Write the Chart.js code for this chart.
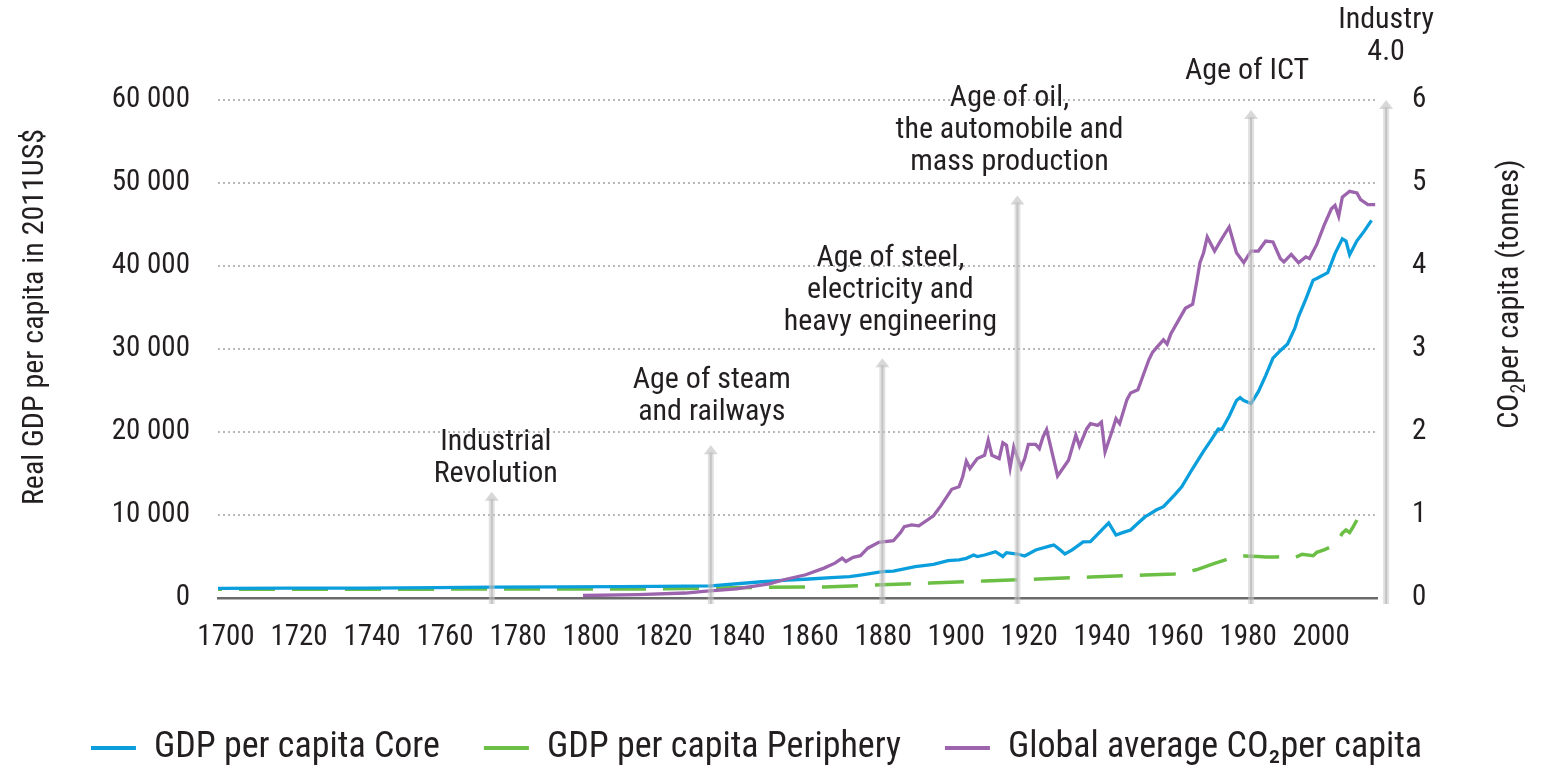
<!DOCTYPE html>
<html>
<head>
<meta charset="utf-8">
<script src="https://cdn.jsdelivr.net/npm/chart.js@4.4.1/dist/chart.umd.min.js"></script>
<style>
  html, body { margin: 0; padding: 0; background: #fff; }
  #wrap { width: 1549px; height: 769px; position: relative; }
</style>
</head>
<body>
<div id="wrap"><canvas id="chartOndas"></canvas></div>
<script>
// valores
const coreYears = [1700, 1720, 1740, 1760, 1775, 1794, 1810, 1820, 1835, 1849, 1856, 1862, 1868, 1873, 1876, 1882, 1885, 1891, 1896, 1900, 1903, 1905, 1907, 1908, 1910, 1913, 1915, 1916, 1919, 1921, 1924, 1928, 1929, 1931, 1932, 1934, 1937, 1939, 1941, 1943, 1944, 1946, 1948, 1950, 1952, 1954, 1955, 1957, 1959, 1962, 1964, 1967, 1970, 1972, 1974, 1975, 1977, 1979, 1980, 1981, 1983, 1985, 1987, 1989, 1991, 1993, 1995, 1996, 1998, 2000, 2001, 2004, 2006, 2008, 2009, 2010, 2012, 2014, 2016];
const coreGdp = [1150, 1180, 1200, 1240, 1300, 1330, 1380, 1400, 1470, 1960, 2150, 2290, 2450, 2570, 2770, 3170, 3250, 3770, 4060, 4500, 4600, 4780, 5180, 5000, 5180, 5580, 5000, 5460, 5300, 5060, 5780, 6270, 6390, 5700, 5300, 5800, 6750, 6800, 7700, 8600, 9040, 7590, 7900, 8190, 9000, 9800, 10040, 10600, 11000, 12400, 13390, 15600, 17690, 19000, 20350, 20300, 21900, 23800, 24140, 23800, 23430, 24860, 26800, 28900, 29800, 30600, 32500, 33900, 36000, 38300, 38500, 39200, 41500, 43270, 43000, 41350, 43030, 44200, 45500];

const periphYears = [1700, 1750, 1775, 1800, 1820, 1835, 1850, 1866, 1880, 1895, 1910, 1925, 1939, 1954, 1962, 1964, 1968, 1973, 1976, 1978, 1981, 1985, 1987, 1990, 1992, 1995, 1997, 2000, 2001, 2003, 2006, 2008, 2009, 2010, 2011, 2012];
const periphGdp = [1050, 1060, 1080, 1080, 1100, 1200, 1290, 1330, 1570, 1800, 2050, 2290, 2530, 2770, 2900, 3000, 3400, 4180, 4600, 4900, 5060, 4990, 4940, 4950, 4990, 4870, 5270, 5100, 5500, 5800, 6400, 7800, 8190, 7890, 8600, 9400];

const co2Years = [1800, 1815, 1828, 1833, 1842, 1851, 1855, 1861, 1866, 1869, 1871, 1872, 1874, 1876, 1878, 1881, 1885, 1887, 1888, 1890, 1892, 1896, 1898, 1901, 1903, 1904, 1905, 1906, 1908, 1910, 1911, 1912, 1914, 1915, 1916, 1917, 1918, 1920, 1921, 1922, 1924, 1925, 1926, 1927, 1930, 1933, 1935, 1936, 1938, 1939, 1941, 1942, 1943, 1945, 1946, 1947, 1949, 1950, 1952, 1953, 1955, 1956, 1957, 1959, 1960, 1961, 1965, 1967, 1968, 1969, 1970, 1971, 1973, 1975, 1977, 1979, 1981, 1983, 1985, 1987, 1989, 1991, 1992, 1994, 1996, 1998, 1999, 2001, 2003, 2005, 2006, 2007, 2008, 2010, 2012, 2013, 2015, 2017];
const co2PerCapita = [0.03, 0.04, 0.06, 0.08, 0.11, 0.17, 0.22, 0.28, 0.36, 0.42, 0.48, 0.44, 0.49, 0.51, 0.60, 0.67, 0.69, 0.79, 0.86, 0.88, 0.87, 0.99, 1.11, 1.31, 1.34, 1.46, 1.65, 1.56, 1.68, 1.72, 1.90, 1.72, 1.68, 1.87, 1.84, 1.57, 1.82, 1.57, 1.68, 1.85, 1.85, 1.80, 1.94, 2.03, 1.47, 1.66, 1.96, 1.83, 2.04, 2.10, 2.08, 2.12, 1.76, 2.02, 2.16, 2.10, 2.39, 2.47, 2.51, 2.63, 2.87, 2.96, 3.01, 3.11, 3.06, 3.18, 3.49, 3.54, 3.78, 4.04, 4.16, 4.35, 4.18, 4.33, 4.47, 4.16, 4.04, 4.18, 4.18, 4.30, 4.29, 4.09, 4.05, 4.14, 4.04, 4.11, 4.09, 4.26, 4.49, 4.69, 4.73, 4.60, 4.83, 4.90, 4.88, 4.80, 4.74, 4.74];

// ondas tecnológicas: año de la flecha, altura (eje izquierdo) y texto
const waveYears = [1775, 1835, 1882, 1919, 1983, 2020];
const waveTops = [12800, 18400, 28900, 48500, 58800, 60000];
const waveLabels = [
  ["Industrial", "Revolution"],
  ["Age of steam", "and railways"],
  ["Age of steel,", "electricity and", "heavy engineering"],
  ["Age of oil,", "the automobile and", "mass production"],
  ["Age of ICT"],
  ["Industry", "4.0"]
];

const FONT = "'Roboto Condensed', 'Liberation Sans Narrow', Roboto, sans-serif";
const TEXT = "#231f20";

function toPoints(xs, ys) {
  return xs.map((x, i) => ({ x, y: ys[i] }));
}

function fmtMiles(v) {
  return String(v).replace(/\B(?=(\d{3})+(?!\d))/g, " ");
}

// flechas + textos de cada onda
const wavesPlugin = {
  id: "waves",
  afterDatasetsDraw(chart) {
    const { ctx, chartArea, scales } = chart;
    const gap = [17, 33, 36, 33, 38, 48];
    const shift = [4, 1, 8, -8, -4, 0];
    ctx.save();
    waveYears.forEach((yr, i) => {
      const px = scales.x.getPixelForValue(yr);
      const top = scales.y.getPixelForValue(waveTops[i]);
      const bottom = chartArea.bottom + 6;
      ctx.fillStyle = "rgba(200,200,200,0.55)";
      ctx.fillRect(px - 3, top + 7, 6, bottom - top - 7);
      ctx.fillStyle = "rgba(160,160,160,0.45)";
      ctx.fillRect(px - 1, top + 7, 2, bottom - top - 7);
      ctx.beginPath();
      ctx.moveTo(px, top);
      ctx.lineTo(px - 7, top + 9);
      ctx.lineTo(px + 7, top + 9);
      ctx.closePath();
      ctx.fillStyle = "rgba(195,195,195,0.65)";
      ctx.fill();

      ctx.font = `30px ${FONT}`;
      ctx.fillStyle = TEXT;
      ctx.textAlign = "center";
      ctx.textBaseline = "middle";
      const lines = waveLabels[i];
      lines.forEach((t, k) => {
        ctx.fillText(t, px + shift[i], top - gap[i] - (lines.length - 1 - k) * 32);
      });
    });
    ctx.restore();
  }
};

// títulos de ejes (el derecho lleva subíndice)
const titlesPlugin = {
  id: "axisTitles",
  afterDraw(chart) {
    const { ctx } = chart;
    const big = `30px ${FONT}`;
    const small = `20px ${FONT}`;
    ctx.save();
    ctx.fillStyle = TEXT;
    ctx.textBaseline = "alphabetic";

    ctx.save();
    ctx.translate(43, 317);
    ctx.rotate(-Math.PI / 2);
    ctx.font = big;
    ctx.textAlign = "center";
    ctx.fillText("Real GDP per capita in 2011US$", 0, 0);
    ctx.restore();

    ctx.save();
    ctx.translate(1518, 294);
    ctx.rotate(-Math.PI / 2);
    ctx.textAlign = "left";
    ctx.font = big;
    const wa = ctx.measureText("CO").width;
    const wc = ctx.measureText("per capita (tonnes)").width;
    ctx.font = small;
    const wb = ctx.measureText("2").width;
    let sx = -(wa + wb + wc) / 2;
    ctx.font = big;
    ctx.fillText("CO", sx, 0);
    sx += wa;
    ctx.font = small;
    ctx.fillText("2", sx, 7);
    sx += wb;
    ctx.font = big;
    ctx.fillText("per capita (tonnes)", sx, 0);
    ctx.restore();

    ctx.restore();
  }
};

// baja la leyenda y la corre un poco a la izquierda
const legendShift = {
  id: "legendShift",
  beforeInit(chart) {
    const legend = chart.legend;
    const fit = legend.fit;
    legend.fit = function () {
      fit.call(this);
      this.height -= 7;
    };
    const draw = legend.draw;
    legend.draw = function () {
      this.ctx.save();
      this.ctx.translate(-18, 0);
      draw.call(this);
      this.ctx.restore();
    };
  }
};

Chart.defaults.font.family = FONT;
Chart.defaults.color = TEXT;

const ctx = document.getElementById("chartOndas");
new Chart(ctx, {
  type: "line",
  data: {
    datasets: [
      {
        label: "GDP per capita Core",
        data: toPoints(coreYears, coreGdp),
        borderColor: "#0a9fdc",
        backgroundColor: "#0a9fdc",
        borderWidth: 3.3,
        pointRadius: 0,
        tension: 0,
        yAxisID: "y",
        order: 2
      },
      {
        label: "GDP per capita Periphery",
        data: toPoints(periphYears, periphGdp),
        borderColor: "#6cbf45",
        backgroundColor: "#6cbf45",
        borderWidth: 3.5,
        borderDash: [36, 17],
        borderDashOffset: 32,
        pointRadius: 0,
        tension: 0,
        yAxisID: "y",
        order: 3
      },
      {
        label: "Global average CO₂per capita",
        data: toPoints(co2Years, co2PerCapita),
        borderColor: "#9c64ad",
        backgroundColor: "#9c64ad",
        borderWidth: 3.3,
        pointRadius: 0,
        tension: 0,
        yAxisID: "y2",
        order: 1
      }
    ]
  },
  options: {
    responsive: true,
    maintainAspectRatio: false,
    animation: false,
    layout: { padding: { top: 100, left: 0, right: 0, bottom: 0 } },
    scales: {
      x: {
        type: "linear",
        min: 1700,
        max: 2017.5,
        grid: { display: false, drawTicks: false },
        border: { display: true, color: "#6b6b6b", width: 2.5 },
        ticks: {
          stepSize: 20,
          includeBounds: false,
          autoSkip: false,
          maxRotation: 0,
          labelOffset: 8,
          padding: 22,
          font: { size: 29 },
          color: TEXT,
          callback: v => (v % 20 === 0 ? String(v) : null)
        },
        afterFit: s => { s.height = 88; }
      },
      y: {
        position: "left",
        min: 0,
        max: 60000,
        grid: {
          drawTicks: false,
          lineWidth: 2,
          color: c => (c.tick.value === 0 ? "rgba(0,0,0,0)" : "#b8b8b8")
        },
        border: { display: false, dash: [2, 3] },
        ticks: {
          stepSize: 10000,
          padding: 28,
          font: { size: 29 },
          color: TEXT,
          callback: v => fmtMiles(v)
        },
        afterFit: s => { s.width = 218; }
      },
      y2: {
        position: "right",
        min: 0,
        max: 6,
        grid: { drawOnChartArea: false, drawTicks: false },
        border: { display: false },
        ticks: {
          stepSize: 1,
          padding: 35,
          font: { size: 29 },
          color: TEXT
        },
        afterFit: s => { s.width = 172; }
      }
    },
    plugins: {
      legend: {
        position: "bottom",
        labels: {
          boxWidth: 45,
          boxHeight: 4,
          padding: 44,
          font: { size: 36 },
          color: TEXT,
          generateLabels: chart => chart.data.datasets.map((ds, i) => ({
            text: ds.label,
            fillStyle: ds.borderColor,
            strokeStyle: ds.borderColor,
            lineWidth: 0,
            lineDash: [],
            hidden: false,
            datasetIndex: i,
            fontColor: TEXT
          }))
        }
      },
      tooltip: { enabled: false }
    }
  },
  plugins: [wavesPlugin, titlesPlugin, legendShift]
});
</script>
</body>
</html>
